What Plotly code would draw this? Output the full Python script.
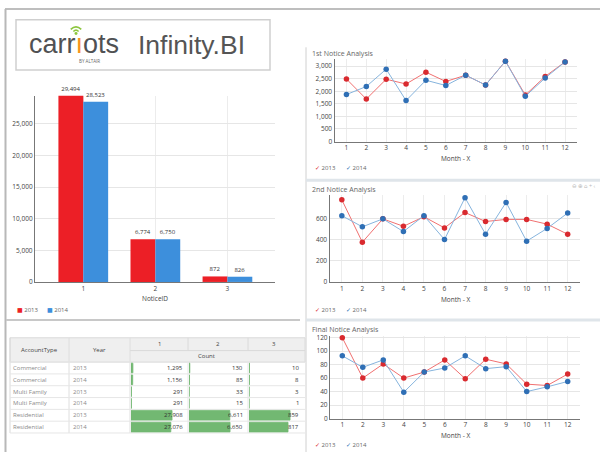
import plotly.graph_objects as go

W, H = 600, 456

# ---------------- data ----------------
notice_ids = [1, 2, 3]
totals_2013 = [29494, 6774, 872]
totals_2014 = [28523, 6750, 826]

months = list(range(1, 13))
first_2013 = [2490, 1690, 2480, 2290, 2760, 2390, 2640, 2250, 3200, 1850, 2590, 3170]
first_2014 = [1870, 2190, 2880, 1630, 2440, 2230, 2640, 2250, 3200, 1800, 2530, 3170]
second_2013 = [775, 375, 595, 525, 615, 510, 655, 570, 590, 590, 545, 450]
second_2014 = [625, 520, 595, 475, 625, 400, 795, 450, 750, 385, 505, 650]
final_2013 = [120, 60, 81, 60, 69, 87, 59, 88, 81, 51, 49, 66]
final_2014 = [93, 76, 87, 39, 69, 75, 93, 74, 77, 40, 47, 55]

account_types = ["Commercial", "Commercial", "Multi Family", "Multi Family", "Residential", "Residential"]
row_years = ["2013", "2014", "2013", "2014", "2013", "2014"]
count_1 = [1295, 1156, 291, 291, 27908, 27076]
count_2 = [130, 85, 33, 15, 6611, 6650]
count_3 = [10, 8, 3, 1, 859, 817]
table_cols = ["1", "2", "3"]

# ---------------- styles ----------------
RED = "#ec1f26"
BLUE = "#3d8fdc"
LRED_LINE = "#f07070"
LRED_MK = "#d92a2f"
LBLUE_LINE = "#86b4dd"
LBLUE_MK = "#2f6fb5"
GREEN = "#72b872"
FONT = "Open Sans, Noto Sans, DejaVu Sans"
LOGO = "Liberation Sans Narrow, Arial Narrow, Liberation Sans, Roboto"


def px(x):
    return x / W


def py(y):
    return 1 - y / H


fig = go.Figure()
shapes = []
ann = []


def text(x, y, s, size=6.5, color="#444", xanchor="left", yanchor="middle", family=FONT):
    ann.append(dict(x=px(x), y=py(y), xref="paper", yref="paper", text=s, showarrow=False,
                    xanchor=xanchor, yanchor=yanchor, font=dict(size=size, color=color, family=family)))


def line(x0, y0, x1, y1, color="#ccc", width=1):
    shapes.append(dict(type="line", xref="paper", yref="paper", x0=px(x0), y0=py(y0), x1=px(x1), y1=py(y1),
                       line=dict(color=color, width=width), layer="below"))


def rect(x0, y0, x1, y1, fill="white", color="#ccc", width=1, layer="below"):
    shapes.append(dict(type="rect", xref="paper", yref="paper", x0=px(x0), y0=py(y0), x1=px(x1), y1=py(y1),
                       fillcolor=fill, line=dict(color=color, width=width), layer=layer))


# ---------------- frame ----------------
line(5, 6, 600, 6, "#a8a8a8", 1.5)
line(5.5, 6, 5.5, 456, "#b8b8b8", 2)
line(6, 322, 300, 322, "#c8c8c8", 2)
line(306, 45, 306, 456, "#d0d0d0", 1)
line(306, 180, 600, 180, "#dfe5ea", 3)
line(306, 322, 600, 322, "#dfe5ea", 3)

# ---------------- logo ----------------
rect(16, 17, 270, 68, "white", "#cfcfcf", 1.5)
text(27, 42, "carr<span style='color:#f7941d'>ı</span>ots", size=27, color="#505153", family=LOGO)
text(89, 58.5, "BY ALTAIR", size=4.5, color="#666", xanchor="center")
text(136, 43, "Infinity.BI", size=26.5, color="#555", family=LOGO)
# wifi arcs above the i
cx, cy = 76, 31
for r in (3.5, 7):
    p = "M {:.5f},{:.5f} Q {:.5f},{:.5f} {:.5f},{:.5f}".format(
        px(cx - r * 0.75), py(cy - r * 0.6), px(cx), py(cy - r * 1.35), px(cx + r * 0.75), py(cy - r * 0.6))
    shapes.append(dict(type="path", xref="paper", yref="paper", path=p, line=dict(color="#8dc63f", width=1.6)))
shapes.append(dict(type="circle", xref="paper", yref="paper", x0=px(cx - 1.5), x1=px(cx + 1.5),
                   y0=py(cy + 1.5), y1=py(cy - 1.5), fillcolor="#8dc63f", line=dict(width=0)))

# ---------------- bar chart ----------------
for yr, vals, col in (("2013", totals_2013, RED), ("2014", totals_2014, BLUE)):
    fig.add_trace(go.Bar(x=notice_ids, y=vals, name=yr, marker=dict(color=col, line=dict(width=0)),
                         text=[f"{v:,}" for v in vals], textposition="outside", constraintext="none",
                         textfont=dict(size=6, color="#333", family=FONT), cliponaxis=False,
                         xaxis="x", yaxis="y", showlegend=False))
text(155, 300.5, "NoticeID", size=6.5, color="#444", xanchor="center")
text(15, 312, f"<span style='color:{RED}'>■</span> 2013", size=6, color="#666")
text(45, 312, f"<span style='color:{BLUE}'>■</span> 2014", size=6, color="#666")

# ---------------- line charts ----------------
series = [
    ("2", "1st Notice Analysis", first_2013, first_2014, 51.5, 168, 158),
    ("3", "2nd Notice Analysis", second_2013, second_2014, 189, 312, 301.5),
    ("4", "Final Notice Analysis", final_2013, final_2014, 331.5, 449, 439),
]
for ax, title, s13, s14, ty, ly, xt in series:
    fig.add_trace(go.Scatter(x=months, y=s13, mode="lines+markers", name="2013",
                             line=dict(color=LRED_LINE, width=1), marker=dict(color=LRED_MK, size=5.5),
                             xaxis="x" + ax, yaxis="y" + ax, showlegend=False, cliponaxis=False))
    fig.add_trace(go.Scatter(x=months, y=s14, mode="lines+markers", name="2014",
                             line=dict(color=LBLUE_LINE, width=1), marker=dict(color=LBLUE_MK, size=5.5),
                             xaxis="x" + ax, yaxis="y" + ax, showlegend=False, cliponaxis=False))
    text(310, ty, title, size=7, color="#666")
    text(456, xt, "Month - X", size=6.5, color="#444", xanchor="center")
    text(313, ly, f"<span style='color:{LRED_MK}'>✓</span> 2013", size=6, color="#666")
    text(344, ly, f"<span style='color:{LBLUE_MK}'>✓</span> 2014", size=6, color="#666")

text(598, 186, "⊖ ⊕ ⌂ + ‹", size=5.5, color="#bbb", xanchor="right")

# ---------------- table ----------------
col_edges = [10, 69, 130, 188, 248, 305]
top, hmid, hbot = 340, 353, 364.7
row_h = 12
rows_bottom = hbot + row_h * len(account_types)
rect(10, top, 305, hbot, "#efefef", "#dadada", 1)
line(130, hmid, 305, hmid, "#dadada", 1)
for xe in col_edges[1:3]:
    line(xe, top, xe, rows_bottom, "#dedede", 1)
for xe in col_edges[3:5]:
    line(xe, top, xe, hmid, "#dadada", 1)
    line(xe, hbot, xe, rows_bottom, "#e6e6e6", 1)
line(10, top, 10, rows_bottom, "#dadada", 1)
for i in range(len(account_types) + 1):
    yy = hbot + row_h * i
    line(10, yy, 305, yy, "#e6e6e6", 1)

text(39.5, 352.5, "AccountType", size=6, color="#444", xanchor="center")
text(99.5, 352.5, "Year", size=6, color="#444", xanchor="center")
for j, c in enumerate(table_cols):
    text((col_edges[2 + j] + col_edges[3 + j]) / 2 - (3 if j == 2 else 0), 346.5, c, size=6, color="#444",
         xanchor="center")
text(207, 359, "Count", size=6, color="#444", xanchor="center")

counts = [count_1, count_2, count_3]
num_right = [185, 245, 301]
for i in range(len(account_types)):
    yc = hbot + row_h * i + row_h / 2
    text(11, yc, account_types[i], size=6, color="#8a8a8a")
    text(71, yc, row_years[i], size=6, color="#8a8a8a")
    for j in range(3):
        text(num_right[j], yc, f"{counts[j][i]:,}", size=6, color="#333", xanchor="right")

table_axes = ["5", "6", "7"]
for j in range(3):
    fig.add_trace(go.Bar(x=counts[j], y=list(range(len(account_types))), orientation="h", width=0.82,
                         marker=dict(color=GREEN, line=dict(color=GREEN, width=0.8)),
                         xaxis="x" + table_axes[j], yaxis="y5", showlegend=False, hoverinfo="x"))

# ---------------- layout ----------------
axis_font = dict(size=6.5, color="#444", family=FONT)
common_x = dict(showgrid=True, gridcolor="#ececec", showline=True, linecolor="#777", linewidth=1.2,
                ticks="", tickfont=axis_font, zeroline=False, fixedrange=True)
common_y = dict(showgrid=True, gridcolor="#e6e6e6", showline=True, linecolor="#777", linewidth=1.2,
                ticks="", tickfont=axis_font, zeroline=False, tickformat=",", fixedrange=True)

layout = dict(
    width=W, height=H, margin=dict(l=0, r=0, t=0, b=0),
    paper_bgcolor="white", plot_bgcolor="white",
    barmode="group", bargap=0.31, bargroupgap=0,
    showlegend=False, font=dict(family=FONT),
    shapes=shapes, annotations=ann,
    xaxis=dict(common_x, domain=[px(35), px(275)], range=[0.33, 3.66], tickvals=notice_ids, anchor="y"),
    yaxis=dict(common_y, domain=[py(283.3), py(94)], range=[0, 29494], tickvals=[0, 5000, 10000, 15000, 20000, 25000],
               anchor="x"),
    xaxis2=dict(common_x, domain=[px(334.5), px(577)], range=[0.4, 12.6], tickvals=months, anchor="y2"),
    yaxis2=dict(common_y, domain=[py(140.7), py(57)], range=[0, 3280], tickvals=[0, 500, 1000, 1500, 2000, 2500, 3000],
                anchor="x2"),
    xaxis3=dict(common_x, domain=[px(329.5), px(580)], range=[0.4, 12.6], tickvals=months, anchor="y3"),
    yaxis3=dict(common_y, domain=[py(283.3), py(195)], range=[0, 820], tickvals=[0, 200, 400, 600], anchor="x3"),
    xaxis4=dict(common_x, domain=[px(330), px(580)], range=[0.4, 12.6], tickvals=months, anchor="y4"),
    yaxis4=dict(common_y, domain=[py(422), py(338.5)], range=[0, 122], tickvals=[0, 20, 40, 60, 80, 100, 120],
                anchor="x4"),
    yaxis5=dict(domain=[py(rows_bottom), py(hbot)], range=[len(account_types) - 0.5, -0.5], visible=False,
                anchor="x5", fixedrange=True),
)
for j, ax in enumerate(table_axes):
    left = col_edges[2 + j] + 1
    layout["xaxis" + ax] = dict(domain=[px(left), px(left + 57)], range=[0, max(counts[j]) / 0.72],
                                visible=False, anchor="y5", fixedrange=True)

fig.update_layout(**layout)
fig.write_html("out.html", config={"displayModeBar": False},
               post_script="document.body.style.margin='0';document.body.style.overflow='hidden';")
